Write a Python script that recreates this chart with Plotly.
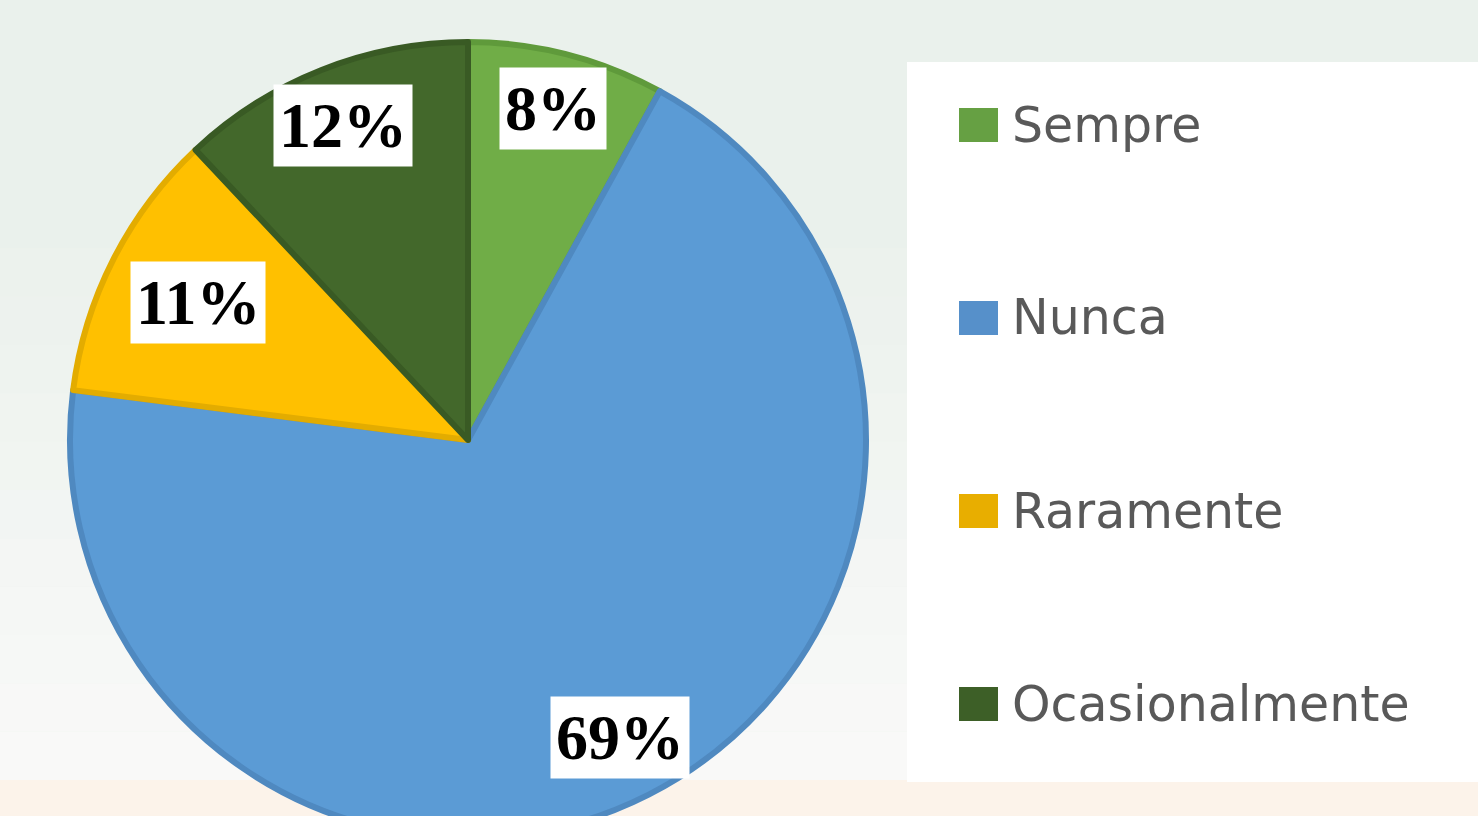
import math
import plotly.graph_objects as go

# ---- data ----
categories = ["Sempre", "Nunca", "Raramente", "Ocasionalmente"]
values = [8, 69, 11, 12]
labels_txt = ["8%", "69%", "11%", "12%"]

# ---- style ----
fill_colors = ["#70AD47", "#5B9BD5", "#FFC000", "#43682B"]
edge_colors = ["#5F9A3B", "#4F89C0", "#E3AC00", "#395A24"]
legend_colors = ["#66A043", "#5690CA", "#E8AE00", "#3D5F27"]
label_radial = [0.86, 0.84, 0.76, 0.85]

W, H = 1478, 860
pie_left, pie_right = 70, 866
pie_top, pie_bottom = 42, 838
cx_px = (pie_left + pie_right) / 2
cy_px = (pie_top + pie_bottom) / 2
R = (pie_right - pie_left) / 2

fig = go.Figure()
fig.add_trace(go.Pie(
    labels=categories,
    values=values,
    sort=False,
    direction="clockwise",
    rotation=0,
    marker=dict(colors=fill_colors, line=dict(color=edge_colors, width=6)),
    textinfo="none",
    hoverinfo="label+percent",
    showlegend=False,
    domain=dict(x=[pie_left / W, pie_right / W], y=[1 - pie_bottom / H, 1 - pie_top / H]),
))

annotations = []
shapes = []

# soft background: pale green at top fading to near-white, warm tint at the very bottom
n_steps = 12
top_col = (234, 241, 236)
mid_col = (250, 250, 249)
for k in range(n_steps):
    y0p = 200 + k * (580 / n_steps)
    y1p = 200 + (k + 1) * (580 / n_steps)
    t = (k + 0.5) / n_steps
    c = tuple(int(top_col[j] + (mid_col[j] - top_col[j]) * t) for j in range(3))
    shapes.append(dict(type="rect", xref="paper", yref="paper", x0=0, x1=1,
                       y0=1 - y1p / H, y1=1 - y0p / H,
                       fillcolor="rgb(%d,%d,%d)" % c, line=dict(width=0), layer="below"))
shapes.append(dict(type="rect", xref="paper", yref="paper", x0=0, x1=1,
                   y0=0, y1=1 - 780 / H, fillcolor="#FCF3EA", line=dict(width=0), layer="below"))

# percentage labels in white boxes, placed at slice mid-angles
total = sum(values)
cum = 0
for v, t, f in zip(values, labels_txt, label_radial):
    mid = (cum + v / 2) / total * 2 * math.pi
    cum += v
    xp = cx_px + f * R * math.sin(mid)
    yp = cy_px - f * R * math.cos(mid)
    annotations.append(dict(
        x=xp / W, y=1 - yp / H, xref="paper", yref="paper",
        text=f"<b>{t}</b>", showarrow=False,
        font=dict(family="Liberation Serif", size=64, color="#000000"),
        bgcolor="#FFFFFF", borderpad=5, xanchor="center", yanchor="middle",
    ))

# legend panel
shapes.append(dict(type="rect", xref="paper", yref="paper",
                   x0=907 / W, x1=1.0, y0=1 - 782 / H, y1=1 - 62 / H,
                   fillcolor="#FFFFFF", line=dict(width=0), layer="below"))
leg_y0, leg_step = 125, 193
for i, (name, col) in enumerate(zip(categories, legend_colors)):
    yc = leg_y0 + i * leg_step
    shapes.append(dict(type="rect", xref="paper", yref="paper",
                       x0=959 / W, x1=998 / W, y0=1 - (yc + 17) / H, y1=1 - (yc - 17) / H,
                       fillcolor=col, line=dict(width=0)))
    annotations.append(dict(
        x=1010 / W, y=1 - yc / H, xref="paper", yref="paper",
        text=name, showarrow=False, xanchor="left", yanchor="middle",
        font=dict(family="DejaVu Sans", size=49, color="#595959"),
    ))

fig.update_layout(
    width=W, height=H,
    margin=dict(l=0, r=0, t=0, b=0),
    paper_bgcolor="#EAF1EC",
    plot_bgcolor="#EAF1EC",
    annotations=annotations,
    shapes=shapes,
)

fig.write_html(
    "out.html",
    config={"displayModeBar": False, "responsive": False},
    post_script="document.body.style.margin='0';document.body.style.overflow='hidden';document.documentElement.style.overflow='hidden';",
)
